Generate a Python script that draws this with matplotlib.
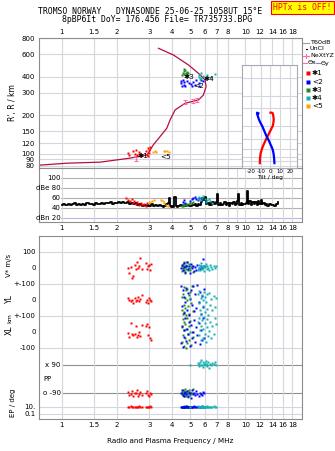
import numpy as np
import matplotlib
matplotlib.use("Agg")
import matplotlib.pyplot as plt
from matplotlib.lines import Line2D
from matplotlib.ticker import FixedLocator, FixedFormatter, NullLocator

# ---------------------------------------------------------------- data ---- #
# true-height profile (plasma frequency MHz, height km)
prof_f = [0.75, 1.07, 1.62, 2.35, 2.90, 2.96, 3.15, 3.43, 3.73, 3.89, 4.14,
          4.69, 5.54, 5.90, 6.10, 6.03, 5.54, 4.89, 4.05, 3.36]
prof_h = [81, 84, 85.6, 92, 97.6, 100.7, 117, 136, 158, 184, 220,
          248, 263, 288, 335, 378, 427, 496, 594, 670]
nexyz_f = [2.52, 4.71, 5.17, 5.47]
nexyz_h = [91, 252, 259, 262]

# echoes in the R' panel
m1_f = [2.30, 2.33, 2.45, 2.50, 2.55, 2.58, 2.62, 2.66, 2.70, 2.86, 2.90, 2.93, 2.97, 3.00, 3.04, 2.95]
m1_h = [101, 98, 104, 99, 106, 97, 102, 100, 96, 104, 98, 110, 106, 101, 113, 96]
m5_f = [3.15, 3.20, 3.24, 3.58, 3.66, 3.74, 3.82]
m5_h = [102, 104, 103, 104, 104, 104, 103]
m3_f = [4.55, 4.60, 4.65, 4.70, 4.72, 4.78, 4.82, 4.62, 4.85, 4.50]
m3_h = [430, 445, 460, 450, 425, 440, 415, 418, 432, 410]
m2_f = [4.45, 4.48, 4.50, 4.55, 4.60, 4.65, 4.80, 4.95, 5.05, 5.10, 5.20, 5.30, 5.40, 5.55, 5.70, 5.85, 5.60, 4.70]
m2_h = [370, 355, 340, 380, 362, 348, 372, 360, 352, 340, 365, 345, 375, 358, 380, 370, 340, 338]
m4_f = [5.55, 5.60, 5.70, 5.75, 5.90, 6.00, 6.20, 6.50, 6.80, 5.65]
m4_h = [415, 400, 430, 390, 405, 395, 410, 402, 420, 385]

# tilt profiles (height km, tilt deg)
tx_h = [272, 272, 267, 250, 233, 215, 201, 185, 168, 155, 144, 132, 121, 107, 96, 89, 86]
tx_d = [0.0, 1.5, 2.5, 3.0, 3.4, 3.0, 2.4, 0.5, -1.7, -3.5, -5.2, -7.0, -8.6, -10.3, -10.8, -11.0, -11.0]
ty_h = [268, 272, 267, 250, 233, 215, 201, 185, 168, 155, 144, 132, 121, 112, 104, 95, 86]
ty_d = [-12.5, -13.8, -14.0, -13.0, -12.0, -10.3, -8.6, -7.0, -5.2, -3.5, -1.7, 0.0, 1.8, 2.8, 3.4, 3.8, 4.1]

# amplitude (noise) trace
amp_f = [1.00, 1.03, 1.06, 1.09, 1.12, 1.15, 1.18, 1.21, 1.24, 1.27,
         1.30, 1.34, 1.38, 1.42, 1.46, 1.50, 1.54, 1.58, 1.62, 1.66,
         1.70, 1.75, 1.80, 1.85, 1.90, 1.95, 2.00, 2.05, 2.10, 2.15,
         2.20, 2.25, 2.30, 2.36, 2.42, 2.48, 2.54, 2.60, 2.66, 2.72,
         2.78, 2.84, 2.90, 2.96, 3.02, 3.10, 3.18, 3.26, 3.34, 3.42,
         3.50, 3.58, 3.66, 3.74, 3.80, 3.84, 3.88, 3.95, 4.02, 4.06,
         4.12, 4.20, 4.25, 4.35, 4.45, 4.55, 4.65, 4.75, 4.85, 4.95,
         5.05, 5.15, 5.25, 5.35, 5.45, 5.55, 5.65, 5.75, 5.85, 5.95,
         6.05, 6.15, 6.25, 6.35, 6.45, 6.55, 6.65, 6.75, 6.85, 6.95,
         7.05, 7.15, 7.30, 7.45, 7.60, 7.75, 7.90, 8.05, 8.20, 8.35,
         8.50, 8.65, 8.80, 8.95, 9.10, 9.20, 9.35, 9.50, 9.65, 9.80,
         9.95, 10.10, 10.25, 10.40, 10.60, 10.80, 11.00, 11.20, 11.40, 11.60,
         11.80, 12.00, 12.20, 12.40, 12.60, 12.80, 13.00, 13.30, 13.60, 13.90,
         14.20, 14.50, 14.80, 15.10]
amp_db = [46, 47, 45, 48, 46, 47, 49, 46, 47, 45,
          48, 46, 49, 47, 48, 46, 50, 48, 47, 49,
          48, 50, 49, 51, 48, 50, 49, 51, 50, 52,
          50, 49, 51, 48, 50, 47, 49, 45, 47, 46,
          44, 46, 43, 45, 44, 47, 43, 45, 44, 46,
          43, 42, 44, 47, 50, 60, 44, 42, 43, 41,
          61, 43, 42, 44, 45, 43, 46, 44, 45, 43,
          44, 46, 45, 48, 44, 47, 46, 52, 60, 55,
          62, 48, 50, 46, 49, 45, 51, 47, 48, 52,
          68, 46, 50, 45, 48, 52, 46, 49, 44, 50,
          47, 51, 45, 48, 54, 68, 46, 49, 45, 48,
          47, 50, 73, 47, 53, 45, 51, 48, 52, 46,
          53, 48, 55, 47, 50, 45, 48, 44, 47, 45,
          46, 44, 47, 51]
a1_f = [2.25, 2.30, 2.36, 2.40, 2.45, 2.48, 2.52, 2.58, 2.63, 2.70, 2.75, 2.82, 2.88, 2.92]
a1_db = [60, 56, 53, 58, 50, 54, 48, 52, 46, 50, 45, 47, 44, 49]
a5_f = [2.98, 3.04, 3.10, 3.16, 3.48, 3.55, 3.62, 3.70, 3.78]
a5_db = [50, 52, 54, 55, 56, 53, 50, 46, 43]
a3_f = [4.50, 4.55, 4.60, 4.65, 4.70, 4.75, 4.80, 4.90, 5.00, 5.10, 5.20]
a3_db = [44, 43, 45, 47, 46, 45, 48, 47, 50, 49, 51]
a2_f = [4.55, 4.62, 4.70, 5.00, 5.10, 5.20, 5.30, 5.40, 5.50, 5.60, 5.70]
a2_db = [52, 55, 50, 54, 57, 60, 62, 58, 56, 60, 55]
a4_f = [5.50, 5.60, 5.70, 5.80, 5.90, 6.00, 6.10, 6.20, 6.30, 6.40, 6.55]
a4_db = [58, 62, 55, 60, 64, 57, 52, 55, 58, 53, 50]

# echo parameters (lower panel)
red_f = [2.30, 2.33, 2.38, 2.42, 2.45, 2.50, 2.53, 2.57, 2.60, 2.64, 2.68, 2.72, 2.88, 2.92, 2.95, 2.98, 3.02, 3.06]
red_v = [2, -30, 5, -60, -50, 20, -5, 40, 0, 12, 60, -8, 30, -5, 10, 18, -10, 25]
red_yl = [14, 0, -5, 3, -20, 10, -8, 2, 20, -5, 8, 33, -10, 0, -18, 12, 2, -8]
red_xl = [-5, -29, 56, -15, -20, -10, 35, -30, -20, 0, -25, 42, 38, 50, -20, 30, -35, -48]
red_pp = [-80, -100, -95, -75, -110, -85, -90, -70, -105, -92, -82, -98, -88, -75, -100, -110, -85, -95]
red_ep = [10, 10, 12, 9, 10, 11, 10, 10, 9, 12, 10, 10, 11, 10, 9, 10, 12, 10]

grn_f = [4.50, 4.52, 4.55, 4.58, 4.60, 4.62, 4.65, 4.68, 4.70, 4.72, 4.75, 4.78, 4.80, 4.85, 4.90, 4.95, 5.00, 5.05, 5.10, 5.20]
grn_v = [10, -20, 25, 0, 35, -10, 15, -30, 5, 20, -5, 40, 10, -15, 0, 25, -10, 5, 15, -25]
grn_yl = [-60, 20, -90, 40, -30, 80, -75, 10, -50, 60, -95, 0, 70, -40, 30, -85, 50, -20, 85, -70]
grn_xl = [30, -60, 80, -20, 60, -90, 10, 50, -40, -100, 20, -70, 90, -10, 40, -50, 70, -80, 0, -30]
grn_pp = [-80, -95, -70, -100, -85, -110, -75, -90, -65, -105, -88, -78, -95, -115, -80, -72, -100, -90, -85, -60]
grn_ep = [10, 11, 10, 9, 10, 12, 10, 10, 11, 9, 10, 10, 12, 10, 9, 10, 11, 10, 10, 9]

blu_f = [4.48, 4.52, 4.56, 4.60, 4.64, 4.70, 4.75, 4.82, 4.88, 4.95, 5.00, 5.06, 5.12, 5.18, 5.25, 5.32, 5.40, 5.48, 5.55, 5.62, 5.70, 5.78, 5.85, 5.95]
blu_v = [0, 20, -15, 30, 5, -25, 10, 40, -5, 15, -30, 25, 0, 10, -20, 5, -10, 20, 0, -5, 15, 0, 55, 10]
blu_yl = [90, -40, 60, -80, 20, -10, 75, -60, 45, -95, 5, 65, -30, 85, -70, 35, -50, 95, -15, 50, -85, 25, -45, 70]
blu_xl = [-70, 40, -95, 10, -30, 85, -55, 20, -10, 60, -85, 45, -40, 0, 75, -65, 30, -20, 55, -75, 15, -50, 90, -35]
blu_pp = [-85, -70, -100, -90, -110, -80, -95, -75, -105, -90, -85, -120, -70, -95, -88, -100, -78, -92, -110, -85, -95, -100, -80, -90]
blu_ep = [10, 9, 10, 11, 10, 10, 12, 9, 10, 10, 11, 10, 9, 10, 12, 10, 10, 11, 9, 10, 10, 12, 10, 11]

cyn_f = [5.00, 5.50, 5.55, 5.60, 5.65, 5.70, 5.75, 5.80, 5.85, 5.90, 5.95, 6.00, 6.05, 6.10, 6.15, 6.20, 6.25, 6.30, 6.40, 6.50, 6.60, 6.70, 6.80, 6.90]
cyn_v = [5, -10, 20, 0, -15, 10, 30, -5, 15, 0, -20, 10, 5, 25, -8, 12, 0, -12, 18, 5, -5, 10, 0, 15]
cyn_yl = [10, 40, -20, 55, -60, 15, -90, 30, -40, 0, 50, -75, 20, -10, -55, 35, -95, 45, -30, 5, -65, 25, -45, 10]
cyn_xl = [0, 60, -20, 90, 10, -50, 40, 75, -35, 20, 95, -10, 55, -60, 30, 80, -25, 5, 65, -40, 35, -15, 85, 50]
cyn_pp = [90, 100, 80, 95, 110, 85, 120, 90, 75, 105, 95, 88, 100, 115, 82, 92, 108, 70, 96, 86, 102, 94, 110, 90]
cyn_ep = [10, 12, 10, 9, 11, 10, 10, 12, 9, 10, 11, 10, 10, 9, 12, 10, 10, 11, 10, 9, 10, 12, 10, 11]

freq_ticks = [1, 1.5, 2, 3, 4, 5, 6, 7, 8, 10, 12, 14, 16, 18]
freq_ticks_mid = [1, 1.5, 2, 3, 4, 5, 6, 7, 8, 9, 10, 12, 14, 16, 18]
h_ticks = [80, 90, 100, 120, 150, 200, 300, 400, 600, 800]
db_ticks = [20, 40, 60, 80, 100]
db_labels = ['dBn 20', '40', '60', 'dBe 80', '100']
tilt_ticks = [-20, -10, 0, 10, 20]
tilt_labels = ['-20', '-10', '0', '10', '20']

# ------------------------------------------------------------- styling ---- #
W, H = 335, 451
RED, BLUE, GREEN, CYAN, ORANGE = '#ff0000', '#0000ff', '#1f8a1f', '#12b0b0', '#ffa000'
PROF, PINK = '#b4103c', '#ff6fa0'
GRID, FRAME = '#d6d6de', '#8c8c8c'
F_MIN, F_MAX = 0.752, 20.3
FS = 5

plt.rcParams['font.family'] = ['DejaVu Sans']


def box(x0, y0, x1, y1):
    return [x0 / W, 1 - y1 / H, (x1 - x0) / W, (y1 - y0) / H]


def ftxt(x, y, s, **kw):
    fig.text(x / W, 1 - y / H, s, **kw)


def flabel(t):
    return ('%g' % t)


def freq_axis(ax, ticks, top=False, bottom=False):
    ax.set_xscale('log')
    ax.set_xlim(F_MIN, F_MAX)
    ax.xaxis.set_major_locator(FixedLocator(ticks))
    ax.xaxis.set_major_formatter(FixedFormatter([flabel(t) for t in ticks]))
    ax.xaxis.set_minor_locator(NullLocator())
    ax.tick_params(axis='x', length=0, labelsize=FS, pad=2.2,
                   top=False, bottom=False, labeltop=top, labelbottom=bottom)
    ax.grid(axis='x', color=GRID, lw=0.8)
    ax.set_axisbelow(True)
    for s in ax.spines.values():
        s.set_color(FRAME)
        s.set_linewidth(0.8)


fig = plt.figure(figsize=(W / 100, H / 100), dpi=100)

ax_h = fig.add_axes(box(39, 38, 302, 168))
ax_a = fig.add_axes(box(39, 168, 302, 222))
ax_p = fig.add_axes(box(39, 236, 302, 419))

# --- R' panel
freq_axis(ax_h, freq_ticks, top=True)
ax_h.set_yscale('log')
ax_h.set_ylim(77, 807)
ax_h.yaxis.set_major_locator(FixedLocator(h_ticks))
ax_h.yaxis.set_major_formatter(FixedFormatter([str(t) for t in h_ticks]))
ax_h.yaxis.set_minor_locator(NullLocator())
ax_h.tick_params(axis='y', length=0, labelsize=FS, pad=3)
ax_h.grid(axis='y', color=GRID, lw=0.8)
ax_h.set_ylabel("R', R / km", fontsize=5.5, labelpad=3)

ax_h.plot(prof_f, prof_h, color=PROF, lw=0.9)
ax_h.errorbar(nexyz_f, nexyz_h, yerr=[h * 0.035 for h in nexyz_h], fmt='none',
              ecolor=PINK, elinewidth=0.8, capsize=1.3, capthick=0.8)
mk = dict(ls='none', marker='s', ms=1.7, mec='none')
ax_h.plot(m1_f, m1_h, color=RED, **mk)
ax_h.plot(m5_f, m5_h, color=ORANGE, **mk)
ax_h.plot(m3_f, m3_h, color=GREEN, **mk)
ax_h.plot(m2_f, m2_h, color=BLUE, **mk)
ax_h.plot(m4_f, m4_h, color=CYAN, **mk)
lab = dict(fontsize=5.3, ha='center', va='center', color='black')
ax_h.text(2.78, 95, '✱1', **lab)
ax_h.text(3.68, 94, '<5', **lab)
ax_h.text(4.92, 398, '✱3', **lab)
ax_h.text(5.55, 338, '<2', **lab)
ax_h.text(6.35, 383, '✱4', **lab)

# --- tilt inset
ax_t = fig.add_axes(box(242, 65, 297, 168))
ax_t.set_yscale('log')
ax_t.set_ylim(77, 807)
ax_t.set_xlim(-29.5, 27.5)
ax_t.yaxis.set_major_locator(FixedLocator(h_ticks))
ax_t.yaxis.set_minor_locator(NullLocator())
ax_t.set_yticklabels([])
ax_t.xaxis.set_major_locator(FixedLocator(tilt_ticks))
ax_t.xaxis.set_major_formatter(FixedFormatter(tilt_labels))
ax_t.tick_params(length=0, labelsize=3.9, pad=1)
ax_t.grid(color=GRID, lw=0.8)
ax_t.set_xlabel('Tilt / deg', fontsize=4.2, labelpad=0.3)
for s in ax_t.spines.values():
    s.set_color('#a8a8b8')
    s.set_linewidth(0.8)
ax_t.plot(tx_d, tx_h, color=RED, lw=1.6)
ax_t.plot(ty_d, ty_h, color=BLUE, lw=1.6)

# --- amplitude panel
freq_axis(ax_a, freq_ticks_mid, bottom=True)
ax_a.set_ylim(11.4, 119.4)
ax_a.set_yticks([])
for v in db_ticks:
    ax_a.axhline(v, xmin=0.085, color='#b8b8e0' if v == 20 else '#b0b0b0', lw=0.8, zorder=0)
for v, s in zip(db_ticks, db_labels):
    ax_a.text(0.985, v, s, fontsize=FS, ha='right', va='center')
ax_a.plot(amp_f, amp_db, drawstyle='steps-mid', color='black', lw=1.3, zorder=2)
ax_a.plot(a1_f, a1_db, color=RED, zorder=3, **mk)
ax_a.plot(a5_f, a5_db, color=ORANGE, zorder=3, **mk)
ax_a.plot(a3_f, a3_db, color=GREEN, zorder=3, **mk)
ax_a.plot(a2_f, a2_db, color=BLUE, zorder=3, **mk)
ax_a.plot(a4_f, a4_db, color=CYAN, zorder=3, **mk)


# --- echo parameter panel
def row_v(v): return 32 - 0.16 * np.asarray(v, float)
def row_yl(v): return 64 - 0.16 * np.asarray(v, float)
def row_xl(v): return 96 - 0.16 * np.asarray(v, float)
def row_pp(v): return 143 - 0.159 * np.asarray(v, float)
def row_ep(v): return 174.35 - 3.65 * np.log10(np.asarray(v, float))


freq_axis(ax_p, freq_ticks, bottom=True)
ax_p.set_ylim(183, 0)
p_ticks = [row_v(100), row_v(0), row_yl(100), row_yl(0), row_xl(100), row_xl(0),
           row_xl(-100), row_ep(10), row_ep(0.1)]
p_labels = ['100', '0', '+-100', '0', '+-100', '0', '-100', '10.', '0.1']
ax_p.yaxis.set_major_locator(FixedLocator(p_ticks))
ax_p.yaxis.set_major_formatter(FixedFormatter(p_labels))
ax_p.tick_params(axis='y', length=0, labelsize=FS, pad=2.5)
for y in [row_v(100), row_yl(100), row_xl(100), row_xl(-100), row_ep(10), row_ep(0.1)]:
    ax_p.axhline(y, color=GRID, lw=0.8, zorder=0)
for y in [row_pp(90), row_pp(-90)]:
    ax_p.axhline(y, xmin=0.088, color='#909090', lw=0.8, zorder=0)
tr = ax_p.get_yaxis_transform()
ax_p.text(0.083, row_pp(90), 'x 90', transform=tr, fontsize=FS, ha='right', va='center')
ax_p.text(0.083, row_pp(-90), 'o -90', transform=tr, fontsize=FS, ha='right', va='center')
ax_p.text(0.018, row_pp(0), 'PP', transform=tr, fontsize=FS, ha='left', va='center')

for f, v, yl, xl, pp, ep, c in [
        (red_f, red_v, red_yl, red_xl, red_pp, red_ep, RED),
        (grn_f, grn_v, grn_yl, grn_xl, grn_pp, grn_ep, GREEN),
        (blu_f, blu_v, blu_yl, blu_xl, blu_pp, blu_ep, BLUE),
        (cyn_f, cyn_v, cyn_yl, cyn_xl, cyn_pp, cyn_ep, CYAN)]:
    ax_p.plot(f, row_v(v), color=c, **mk)
    ax_p.plot(f, row_yl(yl), color=c, **mk)
    ax_p.plot(f, row_xl(xl), color=c, **mk)
    ax_p.plot(f, row_pp(pp), color=c, **mk)
    ax_p.plot(f, row_ep(ep), color=c, **mk)

ax_p.set_xlabel('Radio and Plasma Frequency / MHz', fontsize=5.2, labelpad=7)

# band labels on the left
ftxt(9, 265, 'V* m/s', fontsize=5, rotation=90, ha='center', va='center')
ftxt(9, 299, 'YL', fontsize=5.5, rotation=90, ha='center', va='center')
ftxt(10, 318, 'km', fontsize=4.5, rotation=90, ha='center', va='center')
ftxt(9, 330, 'XL', fontsize=5.5, rotation=90, ha='center', va='center')
ftxt(13, 403, 'EP / deg', fontsize=5, rotation=90, ha='center', va='center')

# --- header
mono = dict(family='DejaVu Sans Mono', fontsize=5.9, ha='center', va='center')
ftxt(150, 12, 'TROMSO NORWAY   DYNASONDE 25-06-25 1058UT 15°E', **mono)
ftxt(157, 19.5, '8pBP6It DoY= 176.456 File= TR735733.BPG', **mono)
ftxt(302.5, 7.3, 'HPTx is OFF!', family='DejaVu Sans Mono', fontsize=5.9,
     color=RED, ha='center', va='center',
     bbox=dict(boxstyle='square,pad=0.25', fc='#ffff00', ec=RED, lw=0.8))


# --- legend (right margin)
def fline(x0, x1, y0, y1=None, **kw):
    y1 = y0 if y1 is None else y1
    fig.add_artist(Line2D([x0 / W, x1 / W], [1 - y0 / H, 1 - y1 / H], **kw))


lg = dict(fontsize=4.6, ha='left', va='center')
fline(303, 309, 42.5, color='#a0a0a0', lw=0.8)
ftxt(310, 42.5, 'T60dB', **lg)
fline(306, 306.8, 49, color='black', lw=0.8)
ftxt(310, 49, 'UnCl', **lg)
fline(303, 309, 55.5, color=PINK, lw=0.8)
fline(306, 306, 53.5, 57.5, color=PINK, lw=0.8)
ftxt(310, 55.5, 'NeXtYZ', **lg)
fline(302.5, 307, 63, color=PINK, lw=0.8)
ftxt(307.5, 63, 'Θx', **lg)
fline(315.5, 320, 63, color='#8080ff', lw=0.8)
ftxt(320.5, 63, 'Θy', **lg)
for y, c, s in [(73, RED, '✱1'), (81.5, BLUE, '<2'), (90, GREEN, '✱3'),
                (98, CYAN, '✱4'), (106, ORANGE, '<5')]:
    fig.add_artist(Line2D([307.7 / W], [1 - y / H], marker='s', ms=2.2,
                          color=c, mec='none', ls='none'))
    ftxt(312, y, s, fontsize=5.3, ha='left', va='center')

fig.savefig('out.png', dpi=100)
